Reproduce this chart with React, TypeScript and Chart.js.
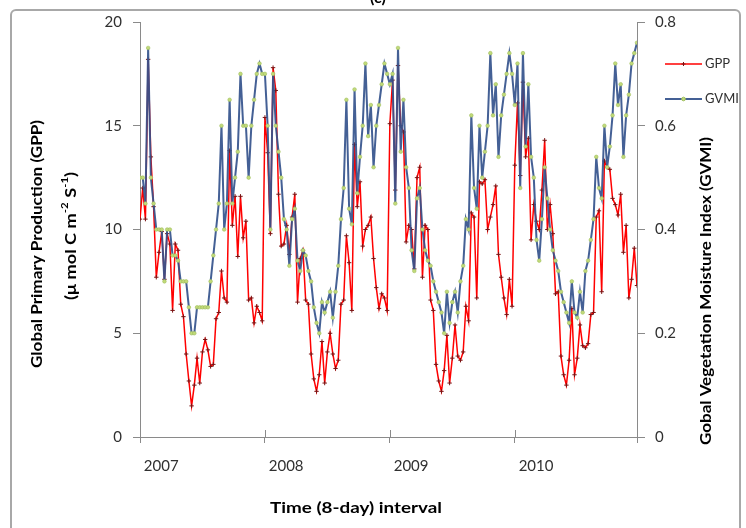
import React, { useEffect, useRef } from 'react';
import { Chart, registerables } from 'chart.js';

Chart.register(...registerables);

// 8-day composites, 46 per year, 2007-2010
const yearLabels = ['2007', '2008', '2009', '2010'];
const periodsPerYear = 46;

// Global Primary Production (µmol C m-2 s-1)
const gppValues = [
  10.5, 12.0, 10.5, 18.2, 13.5, 11.1, 7.7, 8.9, 9.9, 7.6,
  9.8, 9.3, 6.1, 9.3, 9.0, 6.4, 5.8, 4.0, 2.7, 1.5,
  2.5, 3.8, 2.6, 4.1, 4.7, 4.2, 3.4, 3.5, 5.7, 6.0,
  8.0, 6.7, 6.5, 13.8, 10.2, 11.6, 8.7, 11.6, 9.6, 10.4,
  6.6, 6.7, 5.5, 6.3, 6.0, 5.6, 15.4, 13.7, 9.8, 17.8,
  16.7, 11.7, 9.2, 9.3, 10.2, 8.8, 10.6, 11.7, 6.5, 8.6,
  9.0, 6.6, 6.4, 4.0, 2.8, 2.2, 3.0, 4.6, 2.6, 4.1,
  5.0, 4.0, 3.3, 3.7, 6.4, 6.6, 9.7, 8.4, 6.1, 14.1,
  11.1, 12.3, 9.2, 10.0, 10.2, 10.6, 8.6, 7.2, 6.2, 6.9,
  6.7, 6.1, 15.1, 17.2, 11.9, 17.9, 15.0, 14.7, 9.4, 10.2,
  10.0, 8.1, 12.5, 13.0, 7.7, 10.2, 10.0, 6.6, 6.1, 3.5,
  2.7, 2.2, 3.2, 4.9, 2.6, 3.8, 5.4, 3.9, 3.7, 4.1,
  6.3, 5.6, 10.8, 10.6, 6.7, 12.3, 12.2, 12.4, 10.0, 10.6,
  11.2, 12.1, 8.8, 7.7, 6.7, 5.9, 7.6, 6.3, 13.1, 16.1,
  12.6, 17.1, 13.5, 14.4, 9.5, 11.2, 10.4, 10.0, 11.9, 14.3,
  10.0, 11.2, 9.8, 6.9, 7.0, 3.9, 3.0, 2.5, 3.7, 6.2,
  3.0, 3.8, 5.4, 4.4, 4.3, 4.5, 5.9, 6.0, 10.6, 10.9,
  7.0, 13.3, 13.0, 12.9, 11.5, 11.2, 10.7, 11.7, 8.9, 10.2,
  6.7, 7.6, 9.1, 7.3,
];

// Global Vegetation Moisture Index
const gvmiValues = [
  0.50, 0.50, 0.45, 0.75, 0.50, 0.45, 0.40, 0.40, 0.40, 0.30,
  0.40, 0.40, 0.35, 0.35, 0.34, 0.30, 0.30, 0.30, 0.25, 0.20,
  0.20, 0.25, 0.25, 0.25, 0.25, 0.25, 0.30, 0.35, 0.40, 0.45,
  0.60, 0.40, 0.45, 0.65, 0.45, 0.50, 0.55, 0.70, 0.60, 0.60,
  0.50, 0.60, 0.65, 0.70, 0.72, 0.70, 0.70, 0.60, 0.40, 0.70,
  0.60, 0.55, 0.50, 0.42, 0.40, 0.33, 0.42, 0.44, 0.34, 0.32,
  0.36, 0.35, 0.32, 0.30, 0.25, 0.22, 0.20, 0.26, 0.24, 0.26,
  0.28, 0.23, 0.28, 0.33, 0.42, 0.48, 0.65, 0.44, 0.41, 0.67,
  0.47, 0.54, 0.60, 0.72, 0.58, 0.64, 0.52, 0.60, 0.64, 0.68,
  0.72, 0.70, 0.68, 0.70, 0.45, 0.75, 0.55, 0.65, 0.52, 0.48,
  0.36, 0.32, 0.46, 0.48, 0.40, 0.36, 0.34, 0.33, 0.30, 0.28,
  0.26, 0.24, 0.20, 0.28, 0.22, 0.26, 0.28, 0.24, 0.30, 0.33,
  0.42, 0.40, 0.62, 0.48, 0.44, 0.60, 0.50, 0.55, 0.60, 0.74,
  0.62, 0.68, 0.54, 0.62, 0.66, 0.70, 0.74, 0.70, 0.64, 0.72,
  0.48, 0.74, 0.56, 0.68, 0.54, 0.50, 0.38, 0.34, 0.42, 0.52,
  0.46, 0.40, 0.36, 0.34, 0.32, 0.28, 0.26, 0.24, 0.22, 0.30,
  0.24, 0.23, 0.28, 0.24, 0.32, 0.34, 0.38, 0.42, 0.54, 0.48,
  0.46, 0.60, 0.52, 0.56, 0.62, 0.72, 0.64, 0.68, 0.54, 0.62,
  0.66, 0.72, 0.74, 0.76,
];

const gppAxisMax = 20;
const gppAxisStep = 5;
const gvmiAxisMax = 0.8;
const gvmiAxisStep = 0.2;

const FONT = 'Lato, "Open Sans", "DejaVu Sans", sans-serif';
const AXIS_GREY = '#8A8A8A';
const TEXT_COLOR = '#303030';
const GPP_COLOR = '#FF0000';
const GPP_MARK = '#7A1212';
const GVMI_COLOR = 'rgba(52, 82, 140, 0.92)';
const GVMI_MARK = '#C2DA7A';

type Part = { t: string; sup?: boolean };

// Draws a run of text centred at (cx, cy), rotated, squeezed to a given length.
function drawRun(
  ctx: CanvasRenderingContext2D,
  parts: Part[],
  size: number,
  weight: string,
  cx: number,
  cy: number,
  length: number,
  rotation: number
) {
  ctx.save();
  ctx.translate(cx, cy);
  ctx.rotate(rotation);
  const supSize = Math.round(size * 0.62);
  const widths = parts.map((p) => {
    ctx.font = `${weight} ${p.sup ? supSize : size}px ${FONT}`;
    return ctx.measureText(p.t).width;
  });
  const total = widths.reduce((a, b) => a + b, 0);
  ctx.scale(length / total, 1);
  ctx.fillStyle = '#000';
  ctx.textBaseline = 'middle';
  ctx.textAlign = 'left';
  let x = -total / 2;
  parts.forEach((p, k) => {
    ctx.font = `${weight} ${p.sup ? supSize : size}px ${FONT}`;
    ctx.fillText(p.t, x, p.sup ? -size * 0.38 : 0);
    x += widths[k];
  });
  ctx.restore();
}

const decorPlugin = {
  id: 'decor',
  beforeDraw(chart: any) {
    const ctx: CanvasRenderingContext2D = chart.ctx;
    ctx.save();
    ctx.fillStyle = '#FFFFFF';
    ctx.fillRect(0, 0, chart.width, chart.height);
    ctx.strokeStyle = '#A8A8A8';
    ctx.lineWidth = 2;
    ctx.beginPath();
    (ctx as any).roundRect(11, 10, 729, 540, 5);
    ctx.stroke();
    ctx.restore();
  },
  afterDraw(chart: any) {
    const ctx: CanvasRenderingContext2D = chart.ctx;
    const xs = chart.scales.x;
    const area = chart.chartArea;
    ctx.save();

    // category tick marks cross the horizontal axis
    ctx.strokeStyle = AXIS_GREY;
    ctx.lineWidth = 1;
    xs.ticks.forEach((t: any) => {
      const px = Math.round(xs.getPixelForValue(t.value)) + 0.5;
      ctx.beginPath();
      ctx.moveTo(px, area.bottom - 7);
      ctx.lineTo(px, area.bottom);
      ctx.stroke();
    });

    // panel tag, partly above the frame
    ctx.fillStyle = '#000';
    ctx.font = `bold 16px ${FONT}`;
    ctx.textAlign = 'center';
    ctx.textBaseline = 'alphabetic';
    ctx.fillText('(c)', 378, 3);

    // axis titles
    drawRun(ctx, [{ t: 'Global Primary Production (GPP)' }], 16, 'bold', 37, 244, 248, -Math.PI / 2);
    drawRun(
      ctx,
      [{ t: '(\u03BC mol C m' }, { t: '-2', sup: true }, { t: ' S' }, { t: '-1', sup: true }, { t: ')' }],
      16,
      'bold',
      71,
      236,
      128,
      -Math.PI / 2
    );
    drawRun(ctx, [{ t: 'Gobal Vegetation Moisture Index (GVMI)' }], 15, 'bold', 706, 291, 308, -Math.PI / 2);
    drawRun(ctx, [{ t: 'Time (8-day) interval' }], 16, 'bold', 356, 508, 172, 0);

    // legend
    const entries = [
      { label: 'GPP', y: 64, ds: chart.data.datasets[0] },
      { label: 'GVMI', y: 99, ds: chart.data.datasets[1] },
    ];
    entries.forEach((e) => {
      ctx.strokeStyle = e.ds.borderColor;
      ctx.lineWidth = e.ds.borderWidth;
      ctx.beginPath();
      ctx.moveTo(665, e.y);
      ctx.lineTo(702, e.y);
      ctx.stroke();
      ctx.fillStyle = e.ds.pointBackgroundColor;
      ctx.strokeStyle = e.ds.pointBorderColor;
      ctx.lineWidth = 1;
      ctx.beginPath();
      if (e.ds.pointStyle === 'cross') {
        ctx.moveTo(683.5 - 2, e.y);
        ctx.lineTo(683.5 + 2, e.y);
        ctx.moveTo(683.5, e.y - 2);
        ctx.lineTo(683.5, e.y + 2);
      } else {
        ctx.arc(683.5, e.y, 1.8, 0, Math.PI * 2);
        ctx.fill();
      }
      ctx.stroke();
      ctx.fillStyle = TEXT_COLOR;
      ctx.font = `13px ${FONT}`;
      ctx.textAlign = 'left';
      ctx.textBaseline = 'middle';
      ctx.fillText(e.label, 705, e.y);
    });
    ctx.restore();
  },
};

export default function App() {
  const canvasRef = useRef<HTMLCanvasElement | null>(null);

  useEffect(() => {
    if (!canvasRef.current) return;
    const lastIndex = gppValues.length - 1;
    const tickFont = { family: FONT, size: 15 };

    const chart = new Chart(canvasRef.current, {
      type: 'line',
      data: {
        datasets: [
          {
            label: 'GPP',
            data: gppValues.map((v, i) => ({ x: i, y: v })),
            yAxisID: 'y',
            borderColor: GPP_COLOR,
            borderWidth: 1.5,
            pointStyle: 'cross',
            pointRadius: 2.2,
            pointBorderWidth: 1,
            pointBorderColor: GPP_MARK,
            pointBackgroundColor: GPP_MARK,
            tension: 0,
            order: 2,
          },
          {
            label: 'GVMI',
            data: gvmiValues.map((v, i) => ({ x: i, y: v })),
            yAxisID: 'y1',
            borderColor: GVMI_COLOR,
            borderWidth: 2,
            pointStyle: 'circle',
            pointRadius: 1.8,
            pointBorderWidth: 0.6,
            pointBorderColor: '#9FBF5C',
            pointBackgroundColor: GVMI_MARK,
            tension: 0,
            order: 1,
          },
        ],
      },
      options: {
        responsive: false,
        animation: false,
        events: [],
        layout: { padding: { left: 0, right: 0, top: 22, bottom: 41 } },
        plugins: { legend: { display: false }, tooltip: { enabled: false }, title: { display: false } },
        scales: {
          x: {
            type: 'linear',
            min: 0,
            max: lastIndex,
            afterBuildTicks: (s: any) => {
              s.ticks = yearLabels
                .map((_, k) => ({ value: k * periodsPerYear }))
                .concat([{ value: lastIndex }]);
            },
            afterFit: (s: any) => {
              s.height = 50;
            },
            ticks: {
              autoSkip: false,
              maxRotation: 0,
              align: 'start',
              padding: 14,
              color: TEXT_COLOR,
              font: tickFont,
              callback: (_v: any, idx: number) => (idx < yearLabels.length ? ' ' + yearLabels[idx] : ''),
            },
            grid: { drawOnChartArea: false, drawTicks: true, tickLength: 6, color: AXIS_GREY, lineWidth: 1 },
            border: { display: true, color: AXIS_GREY, width: 1 },
          },
          y: {
            position: 'left',
            min: 0,
            max: gppAxisMax,
            afterFit: (s: any) => {
              s.width = 140;
            },
            ticks: { stepSize: gppAxisStep, padding: 11, color: TEXT_COLOR, font: tickFont },
            grid: { drawOnChartArea: false, drawTicks: true, tickLength: 7, color: AXIS_GREY, lineWidth: 1 },
            border: { display: true, color: AXIS_GREY, width: 1 },
          },
          y1: {
            position: 'right',
            min: 0,
            max: gvmiAxisMax,
            afterFit: (s: any) => {
              s.width = 109;
            },
            ticks: {
              stepSize: gvmiAxisStep,
              padding: 10,
              color: TEXT_COLOR,
              font: tickFont,
              callback: (v: any) => (Number(v) === 0 ? '0' : Number(v).toFixed(1)),
            },
            grid: { drawOnChartArea: false, drawTicks: true, tickLength: 8, color: AXIS_GREY, lineWidth: 1 },
            border: { display: true, color: AXIS_GREY, width: 1 },
          },
        },
      } as any,
      plugins: [decorPlugin],
    });

    return () => chart.destroy();
  }, []);

  return (
    <div style={{ position: 'fixed', left: 0, top: 0, width: 746, height: 528, background: '#fff' }}>
      <canvas ref={canvasRef} width={746} height={528} style={{ display: 'block' }} />
    </div>
  );
}
